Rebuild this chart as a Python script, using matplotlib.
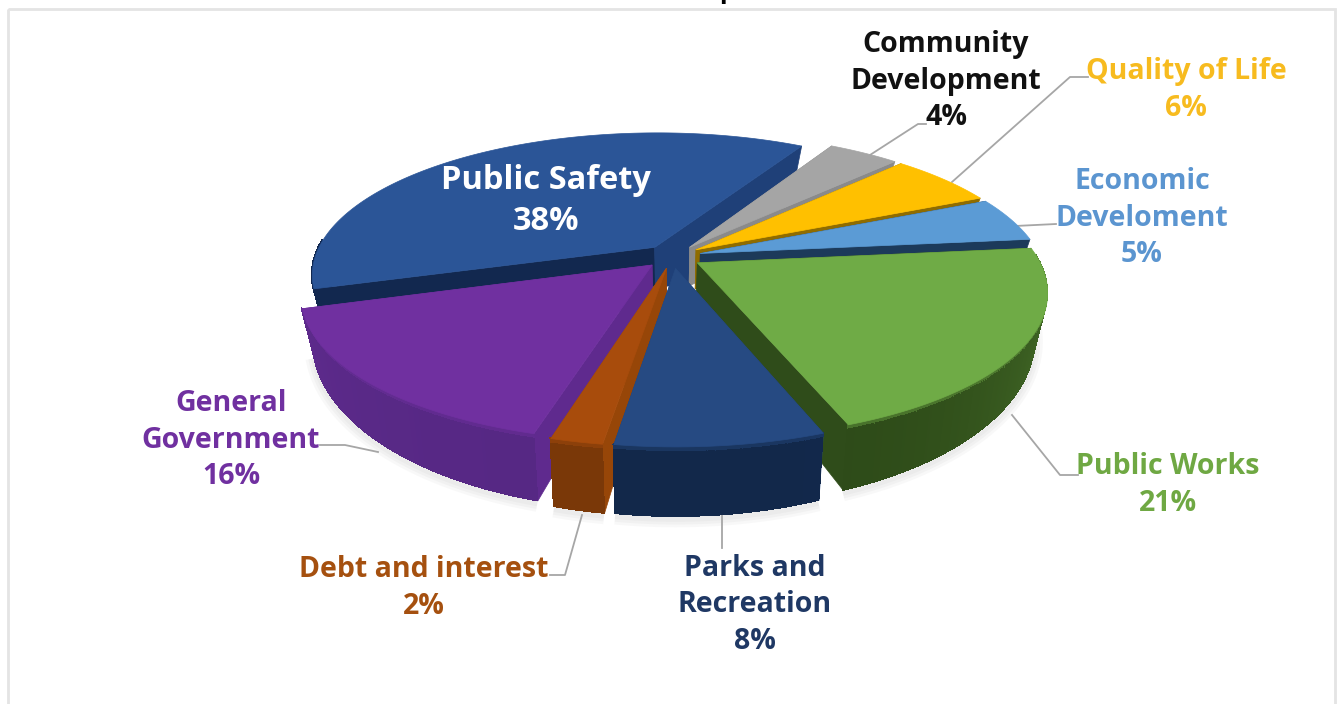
import numpy as np
import matplotlib
matplotlib.use('Agg')
import matplotlib.pyplot as plt
from matplotlib.collections import PolyCollection
from matplotlib.colors import to_rgb
from matplotlib.patches import Rectangle

# clockwise from the 30 degree mark
names = ['Community\nDevelopment', 'Quality of Life', 'Economic\nDeveloment',
         'Public Works', 'Parks and\nRecreation', 'Debt and interest',
         'General\nGovernment', 'Public Safety']
shares = [4, 6, 5, 21, 8, 2, 16, 38]

top_colors = ['#a5a5a5', '#ffc000', '#5b9bd5', '#6fab46', '#264a82', '#a84c0c', '#7030a0', '#2b5597']
wall_colors = ['#5f5f5f', '#8f6c00', '#1c3a5a', '#2d4a18', '#12284a', '#7a3808', '#562884', '#12284f']
side_colors = ['#8a8a8a', '#8f6c00', '#1c3a5a', '#2f4c1a', '#1f4278', '#974608', '#5f2a8e', '#1f4078']
text_colors = ['#111111', '#f7bb1f', '#5b95d0', '#6fa843', '#1f3864', '#a5500f', '#7030a0', 'white']

# label centres, pixels
label_xy = [(946, 81), (1186, 90), (1142, 218), (1168, 485), (755, 605), (424, 588), (231, 440), (546, 201)]
leaders = [
    [(870, 155), (918, 124), (926, 124)],
    [(952, 182), (1070, 77), (1088, 77)],
    [(1015, 226), (1056, 224)],
    [(1012, 415), (1060, 475), (1078, 475)],
    [(722, 515), (722, 548)],
    [(582, 515), (565, 575), (550, 575)],
    [(378, 452), (345, 445), (320, 445)],
]

START = 30.0
CX, CY = 672, 256
R = 340
K = 0.41
P = 0.19
DEPTH = 40
EXPLODE = 0.085


def project(x, y, z=0.0):
    # ground plane to screen with a little perspective, z runs down the wall
    f = 1 / (1 - P * y)
    sx = CX + R * x * f - 12 * z * x
    sy = CY + R * y * K * f + DEPTH * z * f ** 2.4
    return sx, sy


def mix(c, other, t):
    return tuple(np.array(to_rgb(c)) * (1 - t) + np.array(to_rgb(other)) * t)


def offset(i):
    mid = np.radians((edges[i] + edges[i + 1]) / 2)
    return EXPLODE * np.sin(mid), -EXPLODE * np.cos(mid)


def wall_quads(ox, oy, ang, color, top):
    polys, cols = [], []
    for i in range(len(ang) - 1):
        a0, a1 = np.radians(ang[i]), np.radians(ang[i + 1])
        # the rim facing away from the viewer stays hidden
        if np.cos(a0) > 0.05 and np.cos(a1) > 0.05:
            continue
        for z0, z1 in ((0, 0.08), (0.08, 1)):
            pts = [project(ox + np.sin(a0), oy - np.cos(a0), z0),
                   project(ox + np.sin(a1), oy - np.cos(a1), z0),
                   project(ox + np.sin(a1), oy - np.cos(a1), z1),
                   project(ox + np.sin(a0), oy - np.cos(a0), z1)]
            polys.append(pts)
            # lighter towards the sides of the pie, bevel along the top edge
            side = abs(np.sin(a0)) ** 3
            c = mix(color, top, 0.3 * side)
            if z0 == 0:
                c = mix(c, top, 0.4)
            cols.append(c)
    return polys, cols


fig = plt.figure(figsize=(13.38, 7.04), dpi=100)
ax = fig.add_axes([0, 0, 1, 1])
ax.set_xlim(0, 1338)
ax.set_ylim(704, 0)
ax.axis('off')

ax.add_patch(Rectangle((8, 9), 1327, 700, fill=False, edgecolor='#e4e4e4', lw=2, zorder=0))

edges = START + np.cumsum([0] + shares) * 3.6

# back slices first, front slices over them
draw_order = [7, 0, 1, 2, 3, 6, 5, 4]
for n, i in enumerate(draw_order):
    a0, a1 = edges[i], edges[i + 1]
    ox, oy = offset(i)
    ang = np.linspace(a0, a1, max(int(a1 - a0) * 2, 6))
    rad = np.radians(ang)
    z = 2 + n

    # soft shadow under the front rim
    if i in (3, 4, 5, 6):
        rim = np.array([project(ox + np.sin(t), oy - np.cos(t), 1.0) for t in rad])
        for w in (12, 8, 4):
            ax.plot(rim[:, 0], rim[:, 1] + 3, color='#808080', alpha=0.05, lw=w, zorder=1,
                    solid_capstyle='butt')

    # the two cut faces
    for a in (a0, a1):
        t = np.radians(a)
        side = [project(ox, oy, 0), project(ox + np.sin(t), oy - np.cos(t), 0),
                project(ox + np.sin(t), oy - np.cos(t), 1), project(ox, oy, 1)]
        face = side_colors[i]
        if i == 7 and a == a0:
            # the strip along the purple slice sits in shade
            face = wall_colors[i]
        ax.add_collection(PolyCollection([side], facecolors=[face], edgecolors=[face], lw=0.5, zorder=z))

    # centre column showing through the gap between the slices
    if i == 7:
        cx0, cy0 = offset(0)
        hub = [project(ox, oy, 0), project(cx0, cy0, 0), project(cx0, cy0, 1), project(ox, oy, 1)]
        ax.add_collection(PolyCollection([hub], facecolors=[side_colors[i]], edgecolors=[side_colors[i]],
                                         lw=0.5, zorder=z))

    # the back slice keeps a flat dark rim, no bevel
    polys, cols = wall_quads(ox, oy, ang, wall_colors[i], wall_colors[i] if i == 7 else top_colors[i])
    if polys:
        ax.add_collection(PolyCollection(polys, facecolors=cols, edgecolors=cols, lw=0.6, zorder=z,
                                         antialiased=False))

    top = [project(ox, oy)] + [project(ox + np.sin(t), oy - np.cos(t)) for t in rad]
    ax.add_collection(PolyCollection([top], facecolors=[top_colors[i]], edgecolors=[top_colors[i]],
                                     lw=0.5, zorder=z))

for path in leaders:
    xs, ys = zip(*path)
    ax.plot(xs, ys, color='#a6a6a6', lw=1.3, zorder=1.5)

for i, name in enumerate(names):
    size = 23.5 if i == 7 else 20.5
    ax.text(label_xy[i][0], label_xy[i][1], f'{name}\n{shares[i]}%', ha='center', va='center',
            color=text_colors[i], fontsize=size, fontweight='bold', family='Open Sans',
            linespacing=1.32, zorder=30)

# tail of the heading, the rest runs off the top edge
ax.text(728, -1, 'p', ha='center', va='baseline', color='black', fontsize=22, fontweight='bold',
        family='Lato', zorder=30)

fig.savefig('out.png', dpi=100)
